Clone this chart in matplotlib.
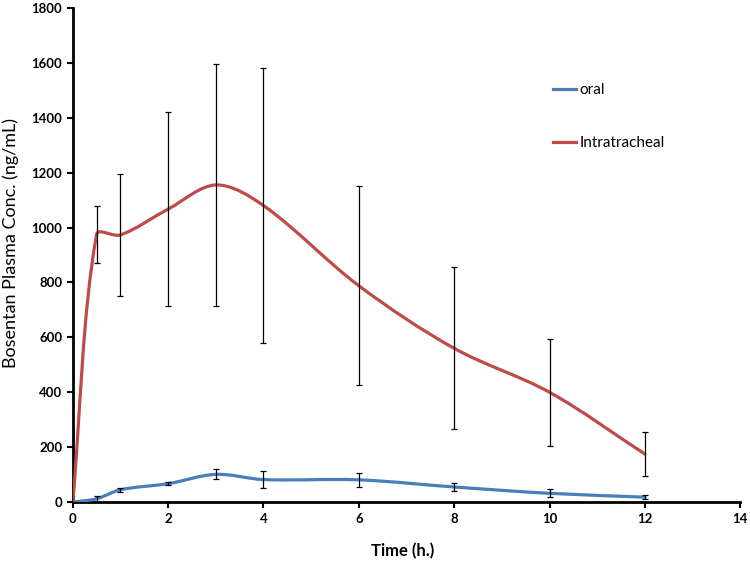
import numpy as np
import matplotlib
matplotlib.use("Agg")
import matplotlib.pyplot as plt
from matplotlib.path import Path
from matplotlib.patches import PathPatch
from matplotlib.lines import Line2D

plt.rcParams['font.family'] = ['Lato', 'DejaVu Sans']

# data
time = [0, 0.5, 1, 2, 3, 4, 6, 8, 10, 12]
oral = [0, 12, 45, 67, 101, 82, 81, 55, 32, 18]
oral_sd = [0, 12, 8, 5, 18, 31, 25, 16, 14, 8]
intra = [0, 975, 973, 1067, 1155, 1080, 788, 560, 400, 175]
intra_sd = [0, 105, 222, 352, 440, 500, 362, 295, 195, 80]

blue = '#4A7EBB'
red = '#BE4B48'


def smooth_path(ax, x, y):
    # Excel-like smoothed line, built in screen space with
    # segment-length weighted tangents, then mapped back to data
    pts = ax.transData.transform(np.column_stack([x, y]).astype(float))
    n = len(pts)
    verts = [pts[0]]
    codes = [Path.MOVETO]
    for i in range(n - 1):
        p0 = pts[i - 1] if i > 0 else pts[i]
        p1 = pts[i]
        p2 = pts[i + 1]
        p3 = pts[i + 2] if i + 2 < n else pts[i + 1]
        d01 = np.hypot(*(p1 - p0))
        d12 = np.hypot(*(p2 - p1))
        d23 = np.hypot(*(p3 - p2))
        c1 = p1 + (p2 - p0) * d12 / max(d01 + d12, 1e-9) / 3.0
        c2 = p2 - (p3 - p1) * d12 / max(d12 + d23, 1e-9) / 3.0
        verts += [c1, c2, p2]
        codes += [Path.CURVE4] * 3
    verts = ax.transData.inverted().transform(np.array(verts))
    return Path(verts, codes)


fig = plt.figure(figsize=(7.5, 5.61), dpi=100)
ax = fig.add_axes([0.097, 0.105, 0.89, 0.881])
ax.set_xlim(0, 14)
ax.set_ylim(0, 1800)

for ys, sd, col in [(oral, oral_sd, blue), (intra, intra_sd, red)]:
    patch = PathPatch(smooth_path(ax, time, ys), facecolor='none', edgecolor=col,
                      lw=2.3, zorder=3, capstyle='round')
    ax.add_patch(patch)
    ax.errorbar(time[1:], ys[1:], yerr=sd[1:], fmt='none', ecolor='black',
                elinewidth=0.9, capsize=2.2, capthick=0.9, zorder=4)

ax.set_xticks(range(0, 15, 2))
ax.set_yticks(range(0, 1801, 200))
for s in ['top', 'right']:
    ax.spines[s].set_visible(False)
for s in ['left', 'bottom']:
    ax.spines[s].set_linewidth(2)
ax.tick_params(direction='out', length=4, width=1.5, labelsize=9.5)
for lab in ax.get_xticklabels() + ax.get_yticklabels():
    lab.set_fontweight('bold')

ax.set_xlabel('Time (h.)', fontsize=12, fontweight='bold')
ax.xaxis.set_label_coords(0.494, -0.083)
ax.set_ylabel('Bosentan Plasma Conc. (ng/mL)', fontsize=13)
ax.yaxis.set_label_coords(-0.081, 0.524)

handles = [Line2D([], [], color=blue, lw=2.3), Line2D([], [], color=red, lw=2.3)]
ax.legend(handles, ['oral', 'Intratracheal'], frameon=False, fontsize=11,
          loc='upper left', bbox_to_anchor=(0.699, 0.875), handlelength=1.5,
          handletextpad=0.25, labelspacing=2.55)

fig.savefig('out.png', dpi=100)
